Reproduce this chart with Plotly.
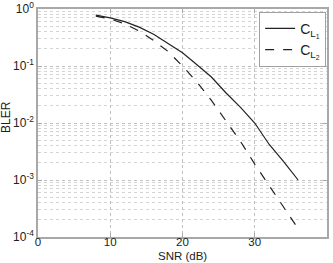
import plotly.graph_objects as go

snr = [8, 10, 12, 14, 16, 18, 20, 22, 24, 26, 28, 30, 32, 34, 36]
bler_cl1 = [0.78, 0.70, 0.60, 0.48, 0.36, 0.25, 0.17, 0.105, 0.064, 0.034, 0.019, 0.010, 0.0042, 0.0021, 0.001]
bler_cl2 = [0.75, 0.67, 0.55, 0.41, 0.28, 0.18, 0.10, 0.052, 0.025, 0.011, 0.0048, 0.0019, 0.0008, 0.00033, 0.00014]
names = ["C<sub>L<sub>1</sub></sub>", "C<sub>L<sub>2</sub></sub>"]
ytick_vals = [1e-4, 1e-3, 1e-2, 1e-1, 1]
ytick_text = ["10<sup>-4</sup>", "10<sup>-3</sup>", "10<sup>-2</sup>", "10<sup>-1</sup>", "10<sup>0</sup>"]
xtick_vals = [0, 10, 20, 30, 40]
minor_vals = [m * d for d in ytick_vals[:-1] for m in range(2, 10)]
x_title = "SNR (dB)"
y_title = "BLER"

fig = go.Figure()
fig.add_trace(go.Scatter(x=snr, y=bler_cl1, mode="lines", name=names[0],
                         line=dict(color="#222222", width=1.2, dash="solid")))
fig.add_trace(go.Scatter(x=snr, y=bler_cl2, mode="lines", name=names[1],
                         line=dict(color="#222222", width=1.2, dash="dash")))

font = dict(family="Liberation Sans, Arial", size=12, color="#222")
small = dict(family="Liberation Sans, Arial", size=11.5, color="#222")
axis_common = dict(showline=True, linecolor="#a8a8a8", linewidth=1.5, mirror="ticks",
                   ticks="inside", ticklen=4, tickcolor="#a8a8a8", zeroline=False,
                   showgrid=True, gridcolor="#c0c0c0", griddash="dot", gridwidth=1,
                   automargin=False)

fig.update_xaxes(range=[0, 40], tickvals=xtick_vals, ticklabelstandoff=-7,
                 tickfont=small, **axis_common)
fig.update_yaxes(type="log", range=[-4, 0], tickvals=ytick_vals, ticktext=ytick_text,
                 minor=dict(showgrid=True, gridcolor="#d4d4d4", griddash="dot",
                            ticks="", tickvals=minor_vals),
                 tickfont=font, **axis_common)

fig.add_annotation(text=x_title, xref="paper", yref="paper", x=0.5, y=0,
                   xanchor="center", yanchor="top", yshift=-12, showarrow=False,
                   font=small, borderpad=0)
fig.add_annotation(text=y_title, xref="paper", yref="paper", x=0, y=0.5, textangle=-90,
                   xanchor="center", yanchor="middle", xshift=-32, yshift=6,
                   showarrow=False, font=font)

fig.update_layout(
    width=333, height=263,
    margin=dict(l=38, r=6, t=9, b=26),
    paper_bgcolor="white", plot_bgcolor="white",
    showlegend=True,
    legend=dict(x=0.997, y=0.988, xanchor="right", yanchor="top",
                bgcolor="white", bordercolor="#a0a0a0", borderwidth=1,
                font=dict(family="Liberation Sans, Arial", size=14, color="#222"),
                itemwidth=30, tracegroupgap=4),
)

fig.write_html("out.html")
